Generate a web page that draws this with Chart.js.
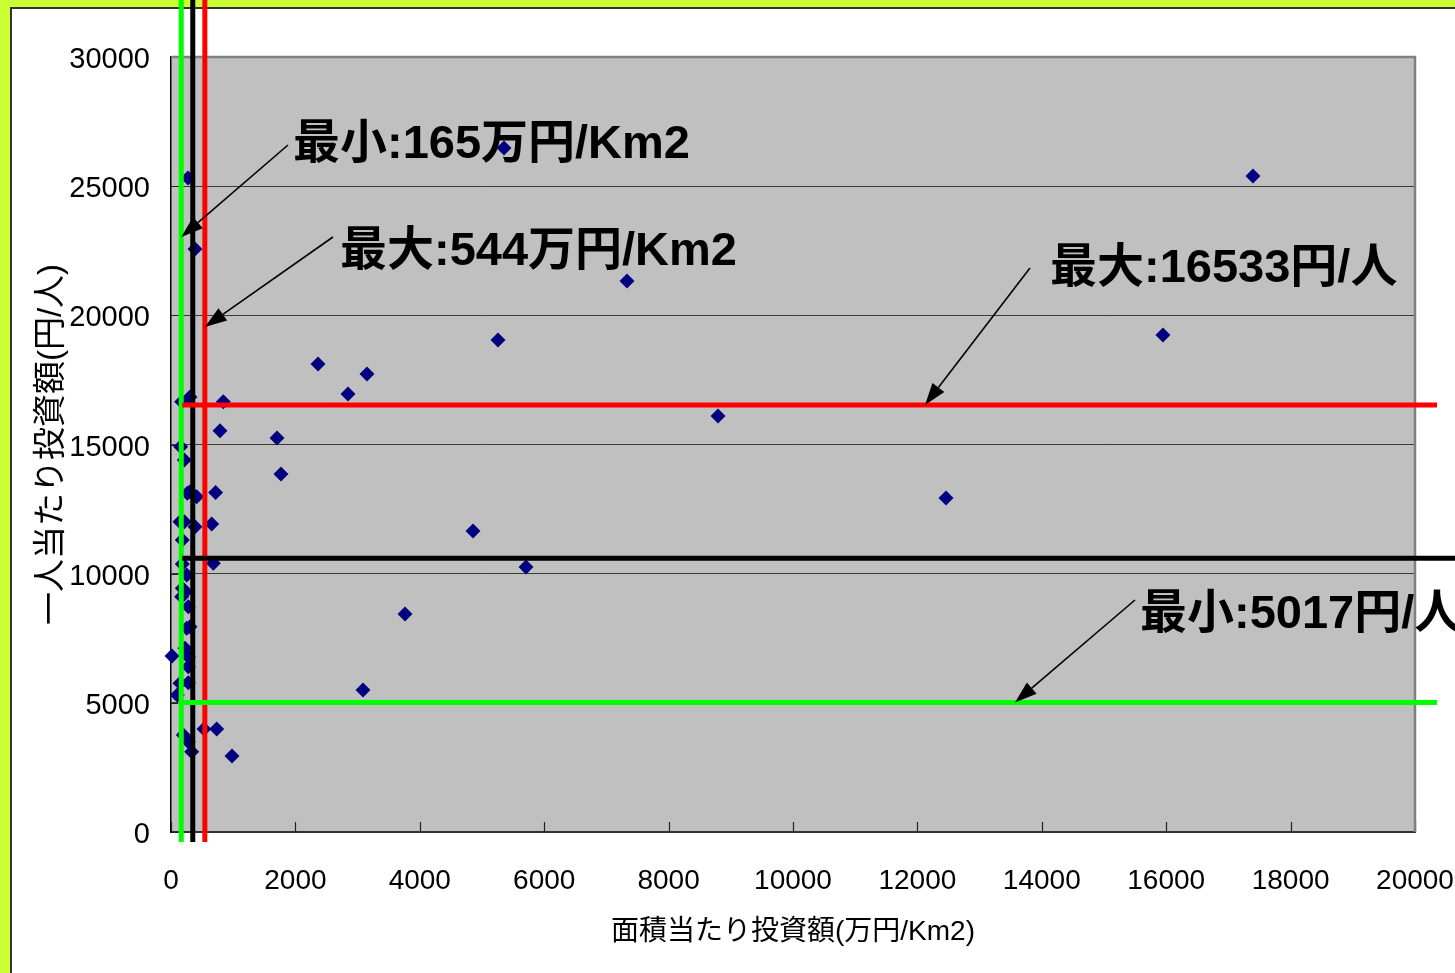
<!DOCTYPE html>
<html lang="ja">
<head>
<meta charset="utf-8">
<title>面積当たり投資額と一人当たり投資額</title>
<script src="https://cdn.jsdelivr.net/npm/chart.js@4/dist/chart.umd.min.js"></script>
<style>
  html, body { margin: 0; padding: 0; }
  body { width: 1455px; height: 973px; background: #CCFF33; position: relative; overflow: hidden; }
  #sheet { position: absolute; left: 10px; top: 7px; right: -20px; bottom: -20px;
           background: #FFFFFF; border-left: 2px solid #333333; border-top: 2px solid #333333; }
  #chart { position: absolute; left: 0; top: 0; }
</style>
</head>
<body>
<div id="sheet"></div>
<canvas id="chart" width="1455" height="973"></canvas>
<script>
// 面積当たり投資額 (万円/Km2)
const areaInvestment = [
  273, 5354, 17395, 386, 7331, 5257, 15948, 2363, 3151, 2846,
  8794, 1704, 1768, 12460, 4855, 5707, 3762, 3087, 981,
  172, 305, 841, 788, 156, 214, 262, 305, 413, 717,
  145, 214, 386, 654, 182, 680, 182, 252, 182, 172,
  230, 278, 252, 305, 225, 16, 278, 278, 145, 278,
  101, 531, 735, 198, 278, 333
];
// 一人当たり投資額 (円/人)
const perCapitaInvestment = [
  25316, 26480, 25394, 22568, 21329, 19045, 19239, 18116, 17729, 16955,
  16103, 15252, 13858, 12929, 11652, 10258, 8439, 5497, 2942,
  16657, 16839, 16657, 15535, 14916, 14400, 13110, 13174, 12980, 13143,
  12013, 12013, 11820, 11923, 11303, 10400, 10374, 9949, 9433, 9110,
  9300, 8721, 7885, 7950, 7111, 6813, 6786, 6399, 5756, 5780,
  5303, 3987, 3987, 3755, 3496, 3108
];

// 軸目盛
const xTicks = [0, 2000, 4000, 6000, 8000, 10000, 12000, 14000, 16000, 18000, 20000];
const yTicks = [0, 5000, 10000, 15000, 20000, 25000, 30000];

// 基準線: 面積当たり (最小, 平均, 最大) / 一人当たり (最小, 平均, 最大)
const areaRefValues = [165, 350, 544];
const perCapitaRefValues = [5017, 10600, 16533];
const refColors = ['#00FF00', '#000000', '#FF0000'];

// 注記テキスト
const noteTexts = ['最小:165万円/Km2', '最大:544万円/Km2', '最大:16533円/人', '最小:5017円/人'];

const points = areaInvestment.map((x, i) => ({ x, y: perCapitaInvestment[i] }));

const tickFont = "'Liberation Sans', Arial, sans-serif";
const titleFont = "'Liberation Sans', 'Noto Sans CJK JP', sans-serif";
const noteFont = "'Liberation Sans', 'Noto Sans CJK JP', sans-serif";

// 注記の配置 (データ座標)
const noteLayout = [
  { x: 1961, y: 26091 },
  { x: 2717, y: 21948 },
  { x: 14132, y: 21290 },
  { x: 15579, y: 7897 }
];
// 矢印: 始点と、基準線上の終点
const arrowLayout = [
  { from: { x: 1881, y: 26594 }, to: { x: areaRefValues[0], y: 23032 } },
  { from: { x: 2604, y: 23032 }, to: { x: areaRefValues[2], y: 19549 } },
  { from: { x: 13810, y: 21832 }, to: { x: 12122, y: perCapitaRefValues[2] } },
  { from: { x: 15498, y: 8981 }, to: { x: 13569, y: perCapitaRefValues[0] } }
];
// 基準線の描画範囲 (データ座標)
const vLineSpan = { from: -390, to: 32300 };
const hLineSpan = [
  { from: 180, to: 20354 },
  { from: 180, to: 20750 },
  { from: 180, to: 20354 }
];

function drawArrow(ctx, x1, y1, x2, y2) {
  const ang = Math.atan2(y2 - y1, x2 - x1);
  const len = 22, half = 7.5;
  const bx = x2 - Math.cos(ang) * len, by = y2 - Math.sin(ang) * len;
  ctx.save();
  ctx.strokeStyle = '#000';
  ctx.fillStyle = '#000';
  ctx.lineWidth = 1.6;
  ctx.beginPath();
  ctx.moveTo(x1, y1);
  ctx.lineTo(bx, by);
  ctx.stroke();
  ctx.beginPath();
  ctx.moveTo(x2, y2);
  ctx.lineTo(bx + Math.sin(ang) * half, by - Math.cos(ang) * half);
  ctx.lineTo(bx - Math.sin(ang) * half, by + Math.cos(ang) * half);
  ctx.closePath();
  ctx.fill();
  ctx.restore();
}

const plotDecor = {
  id: 'plotDecor',
  beforeDraw(chart) {
    const { ctx, chartArea: a } = chart;
    ctx.save();
    ctx.fillStyle = '#C0C0C0';
    ctx.fillRect(a.left, a.top, a.right - a.left, a.bottom - a.top);
    ctx.restore();
  },
  beforeDatasetsDraw(chart) {
    const { ctx, chartArea: a, scales: { x, y } } = chart;
    ctx.save();
    // 内向きの目盛り
    ctx.strokeStyle = '#222';
    ctx.lineWidth = 1.2;
    ctx.beginPath();
    xTicks.forEach(v => {
      const px = Math.round(x.getPixelForValue(v)) + 0.5;
      ctx.moveTo(px, a.bottom);
      ctx.lineTo(px, a.bottom - 10);
    });
    yTicks.forEach(v => {
      const py = Math.round(y.getPixelForValue(v)) + 0.5;
      ctx.moveTo(a.left, py);
      ctx.lineTo(a.left + 7, py);
    });
    ctx.stroke();
    // 上・右の枠線
    ctx.strokeStyle = '#808080';
    ctx.lineWidth = 2.5;
    ctx.beginPath();
    ctx.moveTo(a.left, a.top);
    ctx.lineTo(a.right, a.top);
    ctx.lineTo(a.right, a.bottom);
    ctx.stroke();
    // 注記
    ctx.fillStyle = '#000';
    ctx.font = 'bold 47px ' + noteFont;
    ctx.textAlign = 'left';
    ctx.textBaseline = 'alphabetic';
    noteTexts.forEach((t, i) => {
      ctx.fillText(t, x.getPixelForValue(noteLayout[i].x), y.getPixelForValue(noteLayout[i].y));
    });
    ctx.restore();
  },
  afterDatasetsDraw(chart) {
    const { ctx, scales: { x, y } } = chart;
    ctx.save();
    ctx.lineWidth = 5;
    ctx.lineCap = 'butt';
    areaRefValues.forEach((v, i) => {
      const px = x.getPixelForValue(v);
      ctx.strokeStyle = refColors[i];
      ctx.beginPath();
      ctx.moveTo(px, y.getPixelForValue(vLineSpan.from));
      ctx.lineTo(px, y.getPixelForValue(vLineSpan.to));
      ctx.stroke();
    });
    perCapitaRefValues.forEach((v, i) => {
      const py = y.getPixelForValue(v);
      ctx.strokeStyle = refColors[i];
      ctx.beginPath();
      ctx.moveTo(x.getPixelForValue(hLineSpan[i].from), py);
      ctx.lineTo(x.getPixelForValue(hLineSpan[i].to), py);
      ctx.stroke();
    });
    ctx.restore();
    arrowLayout.forEach(a => {
      drawArrow(ctx,
        x.getPixelForValue(a.from.x), y.getPixelForValue(a.from.y),
        x.getPixelForValue(a.to.x), y.getPixelForValue(a.to.y));
    });
  }
};

new Chart(document.getElementById('chart'), {
  type: 'scatter',
  data: {
    datasets: [{
      label: '市町村',
      data: points,
      pointStyle: 'rectRot',
      pointRadius: 7.5,
      pointHoverRadius: 7.5,
      backgroundColor: '#000080',
      borderColor: '#000080',
      borderWidth: 0,
      clip: false
    }]
  },
  options: {
    responsive: false,
    devicePixelRatio: 1,
    animation: false,
    layout: { padding: { left: 32, top: 57, right: 40, bottom: 24 } },
    plugins: {
      legend: { display: false },
      tooltip: { enabled: false }
    },
    scales: {
      x: {
        type: 'linear',
        min: 0, max: 20000,
        afterBuildTicks: s => { s.ticks = xTicks.map(v => ({ value: v })); },
        afterFit: s => { s.height = 117; s.paddingLeft = 0; s.paddingRight = 0; },
        ticks: {
          color: '#000',
          font: { family: tickFont, size: 28 },
          padding: 32,
          maxRotation: 0,
          callback: v => String(v)
        },
        grid: { display: false, drawTicks: false },
        border: { display: true, color: '#333', width: 2 },
        title: {
          display: true,
          text: '面積当たり投資額(万円/Km2)',
          color: '#000',
          font: { family: titleFont, size: 28 },
          padding: 0
        }
      },
      y: {
        type: 'linear',
        min: 0, max: 30000,
        afterBuildTicks: s => { s.ticks = yTicks.map(v => ({ value: v })); },
        afterFit: s => { s.width = 139; s.paddingTop = 0; s.paddingBottom = 0; },
        ticks: {
          color: '#000',
          font: { family: tickFont, size: 29 },
          padding: 21,
          labelOffset: 3,
          callback: v => String(v)
        },
        grid: { display: true, color: '#3a3a3a', lineWidth: 1, drawTicks: false },
        border: { display: true, color: '#000', width: 1.5 },
        title: {
          display: true,
          text: '一人当たり投資額(円/人)',
          color: '#000',
          font: { family: titleFont, size: 33 },
          padding: 0
        }
      }
    }
  },
  plugins: [plotDecor]
});
</script>
</body>
</html>
